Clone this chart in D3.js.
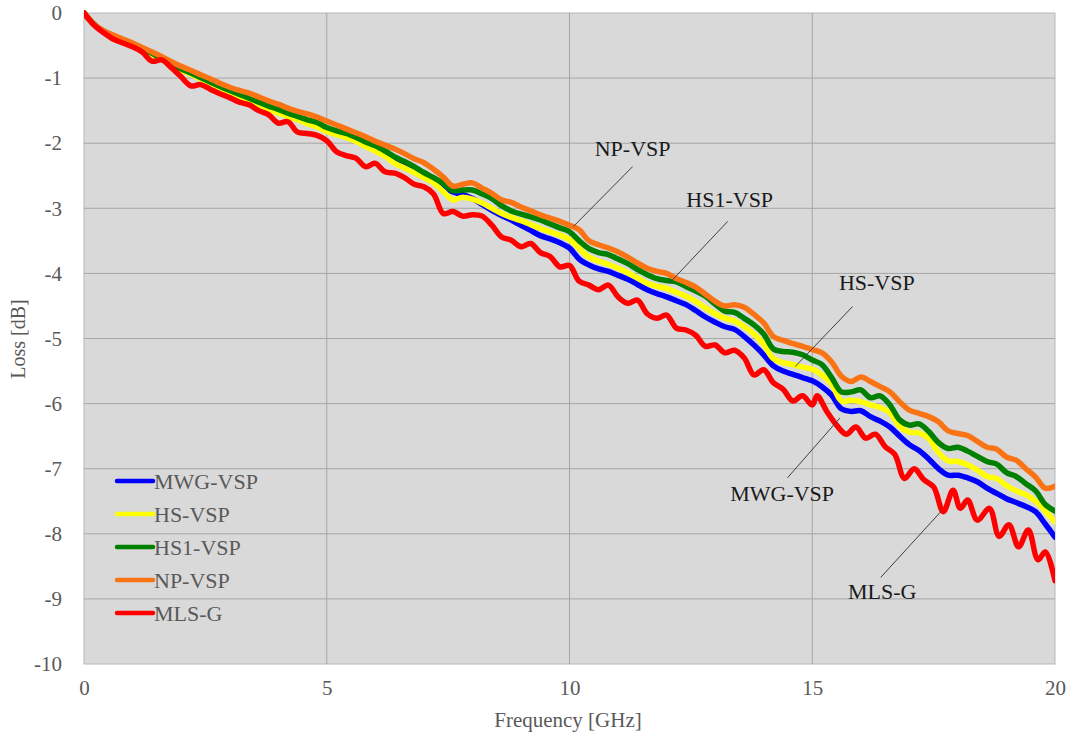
<!DOCTYPE html>
<html><head><meta charset="utf-8">
<script src="https://cdn.jsdelivr.net/npm/d3@7"></script>
<style>body{margin:0;background:#fff}svg{display:block}</style>
</head><body>
<svg id="c" width="1068" height="738"></svg>
<script>
// x grid for the four VSP series (GHz, 0.2 GHz step)
const freq = d3.range(0, 101).map(i => +(i * 0.2).toFixed(1));

const mwgVsp = [0,-0.17,-0.28,-0.35,-0.42,-0.48,-0.55,-0.63,-0.71,-0.79,-0.87,-0.93,-1.00,-1.07,-1.14,-1.21,-1.27,-1.33,-1.40,-1.46,
 -1.52,-1.57,-1.62,-1.68,-1.73,-1.80,-1.85,-1.89,-1.95,-2.03,-2.10,-2.18,-2.28,-2.36,-2.43,-2.50,-2.57,-2.67,-2.75,-2.79,
 -2.85,-2.94,-3.03,-3.11,-3.18,-3.26,-3.34,-3.42,-3.47,-3.53,-3.61,-3.78,-3.87,-3.93,-3.97,-4.03,-4.09,-4.17,-4.25,-4.31,
 -4.36,-4.42,-4.48,-4.57,-4.67,-4.75,-4.82,-4.86,-4.97,-5.10,-5.25,-5.42,-5.50,-5.55,-5.60,-5.65,-5.74,-5.87,-6.08,-6.12,
 -6.11,-6.20,-6.27,-6.36,-6.50,-6.63,-6.72,-6.85,-7.00,-7.10,-7.10,-7.14,-7.20,-7.30,-7.38,-7.46,-7.52,-7.58,-7.66,-7.85,-8.05];

const hsVsp = [0,-0.17,-0.28,-0.36,-0.43,-0.49,-0.56,-0.64,-0.72,-0.80,-0.88,-0.94,-1.01,-1.08,-1.15,-1.22,-1.28,-1.34,-1.41,-1.48,
 -1.54,-1.59,-1.64,-1.70,-1.75,-1.82,-1.87,-1.91,-1.97,-2.05,-2.12,-2.20,-2.31,-2.38,-2.45,-2.53,-2.61,-2.74,-2.87,-2.83,
 -2.86,-2.92,-3.00,-3.08,-3.14,-3.19,-3.25,-3.31,-3.36,-3.41,-3.48,-3.62,-3.75,-3.81,-3.86,-3.92,-3.99,-4.07,-4.15,-4.20,
 -4.23,-4.29,-4.35,-4.43,-4.53,-4.62,-4.69,-4.73,-4.82,-4.93,-5.09,-5.31,-5.37,-5.40,-5.44,-5.47,-5.56,-5.70,-5.96,-5.95,
 -5.97,-6.02,-6.06,-6.14,-6.35,-6.44,-6.45,-6.54,-6.75,-6.88,-6.89,-6.94,-7.02,-7.12,-7.15,-7.26,-7.34,-7.40,-7.50,-7.65,-7.82];

const hs1Vsp = [0,-0.17,-0.28,-0.35,-0.42,-0.48,-0.55,-0.62,-0.70,-0.78,-0.86,-0.92,-0.99,-1.06,-1.13,-1.19,-1.25,-1.31,-1.37,-1.43,
 -1.48,-1.54,-1.59,-1.64,-1.68,-1.76,-1.81,-1.85,-1.91,-1.98,-2.04,-2.12,-2.21,-2.28,-2.36,-2.45,-2.53,-2.62,-2.73,-2.72,
 -2.72,-2.78,-2.85,-2.96,-3.04,-3.09,-3.13,-3.18,-3.24,-3.30,-3.36,-3.50,-3.62,-3.68,-3.71,-3.78,-3.85,-3.94,-4.02,-4.08,
 -4.11,-4.13,-4.20,-4.27,-4.35,-4.47,-4.58,-4.60,-4.69,-4.79,-4.93,-5.16,-5.20,-5.21,-5.25,-5.33,-5.40,-5.60,-5.82,-5.82,
 -5.79,-5.91,-5.88,-6.02,-6.25,-6.33,-6.31,-6.43,-6.60,-6.69,-6.67,-6.73,-6.81,-6.89,-6.93,-7.06,-7.12,-7.23,-7.34,-7.55,-7.65];

const npVsp = [0,-0.17,-0.27,-0.34,-0.40,-0.46,-0.53,-0.60,-0.67,-0.75,-0.82,-0.88,-0.95,-1.01,-1.08,-1.14,-1.19,-1.23,-1.29,-1.35,
 -1.40,-1.46,-1.51,-1.55,-1.60,-1.66,-1.72,-1.78,-1.84,-1.90,-1.97,-2.03,-2.09,-2.16,-2.24,-2.30,-2.40,-2.52,-2.66,-2.63,
 -2.61,-2.69,-2.77,-2.87,-2.91,-2.98,-3.04,-3.10,-3.15,-3.20,-3.26,-3.33,-3.50,-3.56,-3.61,-3.67,-3.75,-3.84,-3.92,-3.97,
 -4.00,-4.08,-4.14,-4.21,-4.32,-4.43,-4.50,-4.48,-4.52,-4.63,-4.76,-4.97,-5.03,-5.08,-5.12,-5.17,-5.22,-5.36,-5.58,-5.66,
 -5.59,-5.66,-5.74,-5.82,-5.97,-6.10,-6.15,-6.20,-6.28,-6.42,-6.46,-6.49,-6.58,-6.67,-6.70,-6.82,-6.87,-7.00,-7.13,-7.30,-7.27];

// MLS-G has its own (finer at the top end) frequency grid
const mlsFreq = [0,0.2,0.4,0.6,0.8,1.0,1.2,1.4,1.6,1.8,2.0,2.2,2.4,2.6,2.8,3.0,3.2,3.4,3.6,3.8,
 4.0,4.2,4.4,4.6,4.8,5.0,5.2,5.4,5.6,5.8,6.0,6.2,6.4,6.6,6.8,7.0,7.2,7.4,7.6,7.8,
 8.0,8.2,8.4,8.6,8.8,9.0,9.2,9.4,9.6,9.8,10.0,10.2,10.4,10.6,10.8,11.0,11.2,11.4,11.6,11.8,
 12.0,12.2,12.4,12.6,12.8,13.0,13.2,13.4,13.6,13.8,14.0,14.2,14.4,14.6,14.8,15.0,15.1,15.3,15.5,15.7,
 15.9,16.1,16.3,16.5,16.7,16.9,17.1,17.3,17.5,17.7,17.9,18.05,18.2,18.4,18.65,18.85,19.05,19.25,19.45,19.65,19.8,20.0];
const mlsG = [0,-0.18,-0.30,-0.40,-0.46,-0.52,-0.60,-0.74,-0.72,-0.84,-0.98,-1.12,-1.10,-1.17,-1.24,-1.30,-1.37,-1.41,-1.50,-1.56,
 -1.69,-1.67,-1.83,-1.85,-1.88,-1.96,-2.13,-2.19,-2.23,-2.36,-2.31,-2.44,-2.46,-2.53,-2.63,-2.67,-2.78,-3.08,-3.05,-3.12,
 -3.10,-3.12,-3.26,-3.44,-3.49,-3.59,-3.54,-3.68,-3.74,-3.90,-3.88,-4.12,-4.18,-4.25,-4.18,-4.36,-4.46,-4.41,-4.62,-4.69,
 -4.64,-4.84,-4.87,-4.95,-5.12,-5.10,-5.22,-5.18,-5.30,-5.56,-5.48,-5.68,-5.78,-5.96,-5.88,-6.02,-5.88,-6.12,-6.33,-6.47,
 -6.36,-6.53,-6.47,-6.66,-6.78,-7.15,-7.00,-7.17,-7.28,-7.66,-7.33,-7.61,-7.48,-7.79,-7.61,-8.04,-7.86,-8.20,-7.94,-8.40,-8.28,-8.72];

const seriesNames = ["MWG-VSP","HS-VSP","HS1-VSP","NP-VSP","MLS-G"];
const seriesColors = ["#0000ff","#ffff00","#008000","#fa7314","#ff0000"];
const xTicks = [0,5,10,15,20];
const yTicks = [0,-1,-2,-3,-4,-5,-6,-7,-8,-9,-10];

// annotation labels: text, label position (GHz,dB), leader from (GHz,dB) to (GHz,dB)
const annoText = ["NP-VSP","HS1-VSP","HS-VSP","MWG-VSP","MLS-G"];
const annoLabel = [[11.3,-2.2],[13.3,-2.98],[16.33,-4.26],[14.38,-7.5],[16.44,-9.0]];
const annoFrom = [[11.3,-2.36],[13.26,-3.2],[15.83,-4.51],[15.57,-6.22],[16.41,-8.67]];
const annoTo = [[10.08,-3.28],[12.07,-4.14],[14.65,-5.43],[14.49,-7.14],[17.66,-7.65]];

const seriesData = [mwgVsp, hsVsp, hs1Vsp, npVsp].map(arr => arr.map((v,i)=>[freq[i], v]));
seriesData.push(mlsG.map((v,i)=>[mlsFreq[i], v]));

const svg = d3.select("#c");
const L = 84, T = 13, R = 1055, B = 664;
const x = d3.scaleLinear().domain([0,20]).range([L,R]);
const y = d3.scaleLinear().domain([-10,0]).range([B,T]);
const serif = "Liberation Serif, Times New Roman, DejaVu Serif, serif";
const grey = "#595959";
const fmt = d => String(d);

svg.append("rect").attr("x",L).attr("y",T).attr("width",R-L).attr("height",B-T)
  .attr("fill","#d9d9d9").attr("stroke","#b8b8b8").attr("stroke-width",1);

// grid
svg.append("g").selectAll("line").data(yTicks.filter(d=>d!==0 && d!==-10)).join("line")
  .attr("x1",L).attr("x2",R).attr("y1",d=>y(d)).attr("y2",d=>y(d))
  .attr("stroke","#a6a6a6").attr("stroke-width",1);
svg.append("g").selectAll("line").data(xTicks.filter(d=>d!==0 && d!==20)).join("line")
  .attr("y1",T).attr("y2",B).attr("x1",d=>x(d)).attr("x2",d=>x(d))
  .attr("stroke","#a6a6a6").attr("stroke-width",1);

// axes (labels only)
const yAxis = d3.axisLeft(y).tickValues(yTicks).tickSize(0).tickPadding(22).tickFormat(fmt);
const gy = svg.append("g").attr("transform",`translate(${L},0)`).call(yAxis);
gy.select(".domain").remove();
gy.selectAll("text").attr("font-family",serif).attr("font-size",21).attr("fill",grey);
const xAxis = d3.axisBottom(x).tickValues(xTicks).tickSize(0).tickPadding(16).tickFormat(fmt);
const gx = svg.append("g").attr("transform",`translate(0,${B})`).call(xAxis);
gx.select(".domain").remove();
gx.selectAll("text").attr("font-family",serif).attr("font-size",21).attr("fill",grey);

svg.append("text").attr("x",568).attr("y",727).attr("text-anchor","middle")
  .attr("font-family",serif).attr("font-size",21).attr("fill",grey).text("Frequency [GHz]");
svg.append("text").attr("transform","translate(25,339) rotate(-90)").attr("text-anchor","middle")
  .attr("font-family",serif).attr("font-size",20).attr("fill",grey).text("Loss [dB]");

// lines
const line = d3.line().x(d=>x(d[0])).y(d=>y(d[1])).curve(d3.curveCatmullRom.alpha(0.5));
svg.append("clipPath").attr("id","pc").append("rect")
  .attr("x",L).attr("y",T-4).attr("width",R-L).attr("height",B-T+4);
svg.append("g").attr("clip-path","url(#pc)").selectAll("path").data(seriesData).join("path")
  .attr("d",line).attr("fill","none").attr("stroke",(d,i)=>seriesColors[i])
  .attr("stroke-width",5.5).attr("stroke-linejoin","round").attr("stroke-linecap","round");

// legend
const lg = svg.append("g");
seriesNames.forEach((n,i)=>{
  const yy = 481 + i*33;
  lg.append("line").attr("x1",117).attr("x2",153).attr("y1",yy).attr("y2",yy)
    .attr("stroke",seriesColors[i]).attr("stroke-width",4.5).attr("stroke-linecap","round");
  lg.append("text").attr("x",154).attr("y",yy+8).attr("font-family",serif).attr("font-size",22)
    .attr("fill",grey).text(n);
});

// annotations
annoText.forEach((t,i)=>{
  svg.append("line").attr("x1",x(annoFrom[i][0])).attr("y1",y(annoFrom[i][1]))
    .attr("x2",x(annoTo[i][0])).attr("y2",y(annoTo[i][1]))
    .attr("stroke","#404040").attr("stroke-width",1);
  svg.append("text").attr("x",x(annoLabel[i][0])).attr("y",y(annoLabel[i][1]))
    .attr("text-anchor","middle").attr("font-family",serif).attr("font-size",22)
    .attr("fill","#1a1a1a").text(t);
});
</script>
</body></html>
